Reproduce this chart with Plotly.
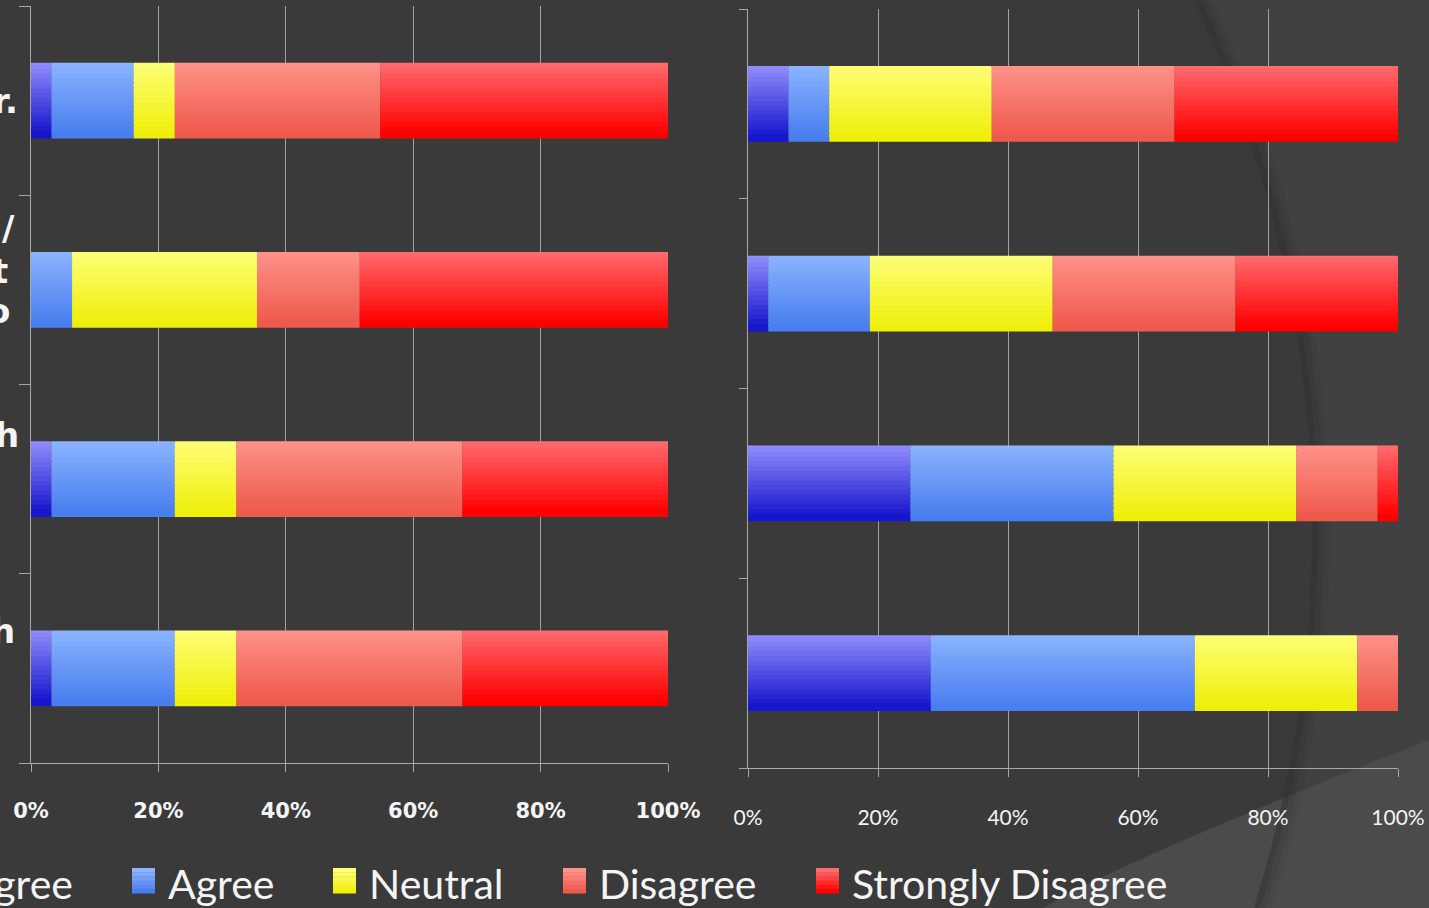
import numpy as np
import plotly.graph_objects as go

# ---------------------------------------------------------------- data
series_names = ["Strongly Agree", "Agree", "Neutral", "Disagree", "Strongly Disagree"]
row_ids = [0, 1, 2, 3]

# left survey (percent of respondents per statement)
left_strongly_agree = [3.23, 0.00, 3.23, 3.23]
left_agree = [12.90, 6.45, 19.35, 19.35]
left_neutral = [6.45, 29.03, 9.68, 9.68]
left_disagree = [32.26, 16.13, 35.48, 35.48]
left_strongly_disagree = [45.16, 48.39, 32.26, 32.26]

# right survey (percent of respondents per statement)
right_strongly_agree = [6.25, 3.125, 25.0, 28.125]
right_agree = [6.25, 15.625, 31.25, 40.625]
right_neutral = [25.0, 28.125, 28.125, 25.0]
right_disagree = [28.125, 28.125, 12.5, 6.25]
right_strongly_disagree = [34.375, 25.0, 3.125, 0.0]

tick_values = [0, 20, 40, 60, 80, 100]
tick_labels = ["0%", "20%", "40%", "60%", "80%", "100%"]

# trailing pieces of the statement labels at the left edge
label_tails = ["r.", "/", "t", "o", "h", "h"]

# ---------------------------------------------------------------- styling
W, H = 1429, 908
BG = "#3a3a3a"
GRID = "#a2a2a2"
AXIS = "#a8a8a8"
BAR_W = 0.4
STRIPS = 16

# vertical gradient of each series: (top colour, bottom colour)
GRADIENTS = {
    "Strongly Agree": ((0x92, 0x8e, 0xfc), (0x16, 0x16, 0xcc)),
    "Agree": ((0x8c, 0xb4, 0xff), (0x48, 0x7e, 0xee)),
    "Neutral": ((0xfe, 0xfe, 0x78), (0xef, 0xef, 0x0c)),
    "Disagree": ((0xff, 0x92, 0x8a), (0xee, 0x5a, 0x4c)),
    "Strongly Disagree": ((0xff, 0x6c, 0x70), (0xff, 0x00, 0x00)),
}


def mix(c1, c2, t):
    return "#%02x%02x%02x" % tuple(int(round(a + (b - a) * t)) for a, b in zip(c1, c2))


def px(x):
    return x / W


def py(y):
    return 1 - y / H


fig = go.Figure()


def add_stacked(series_values, xa, ya):
    base = np.zeros(len(row_ids))
    step = BAR_W / STRIPS
    for name, vals in zip(series_names, series_values):
        vals = np.asarray(vals, dtype=float)
        top, bot = GRADIENTS[name]
        for k in range(STRIPS):
            t = k / (STRIPS - 1)
            # each strip reaches up over the previous one so no seams show
            ext = 0.6 * step if k > 0 else 0.0
            fig.add_trace(go.Bar(
                orientation="h", y=row_ids, x=vals, base=base.copy(),
                width=step + ext, offset=-BAR_W / 2 + k * step - ext,
                marker=dict(color=mix(top, bot, t), line=dict(width=0)),
                xaxis=xa, yaxis=ya, name=name, showlegend=False,
                hoverinfo="skip",
            ))
        base = base + vals


add_stacked([left_strongly_agree, left_agree, left_neutral,
             left_disagree, left_strongly_disagree], "x", "y")
add_stacked([right_strongly_agree, right_agree, right_neutral,
             right_disagree, right_strongly_disagree], "x2", "y2")

xaxis_common = dict(
    range=[0, 100], tickvals=tick_values, ticktext=tick_labels,
    showgrid=True, gridcolor=GRID, gridwidth=1, zeroline=False,
    showline=True, linecolor=AXIS, linewidth=1,
    ticks="outside", ticklen=8, tickcolor=AXIS, tickwidth=1,
    fixedrange=True,
)
yaxis_common = dict(
    range=[3.5, -0.5], tickvals=[-0.5, 0.5, 1.5, 2.5, 3.5],
    showticklabels=False, showgrid=False, zeroline=False,
    showline=True, linecolor=AXIS, linewidth=1,
    ticks="outside", tickcolor=AXIS, tickwidth=1, fixedrange=True,
)

fig.update_layout(
    width=W, height=H, autosize=False,
    margin=dict(l=0, r=0, t=0, b=0, autoexpand=False),
    paper_bgcolor=BG, plot_bgcolor="rgba(0,0,0,0)",
    barmode="overlay", showlegend=False,
    xaxis=dict(**xaxis_common, domain=[px(31), px(668)], anchor="y",
               tickfont=dict(family="DejaVu Sans", size=21, color="#f4f4f4", weight="bold"),
               ticklabelstandoff=21),
    yaxis=dict(**yaxis_common, domain=[py(763), py(6)], anchor="x", ticklen=11),
    xaxis2=dict(**xaxis_common, domain=[px(748), px(1398)], anchor="y2",
                tickfont=dict(family="Lato", size=21, color="#f4f4f4"),
                ticklabelstandoff=23),
    yaxis2=dict(**yaxis_common, domain=[py(768), py(9)], anchor="x2", ticklen=8),
)

# ---------------------------------------------------------------- backdrop
shapes = []
cx, cy, R = 58.0, 530.0, 1254.0
ys = np.linspace(0, H, 60)
arc_x = cx + np.sqrt(R ** 2 - (ys - cy) ** 2)


def path_from(points, close=False):
    d = "M " + " L ".join(f"{px(x):.5f},{py(y):.5f}" for x, y in points)
    return d + (" Z" if close else "")


arc_pts = list(zip(arc_x, ys))
shapes.append(dict(type="path", xref="paper", yref="paper", layer="below",
                   path=path_from(arc_pts + [(W, H), (W, 0)], close=True),
                   fillcolor="#414141", line=dict(width=0)))

tri_pts = [(1043 + (W - 1043) * s, H - (H - 740) * (s ** 0.9)) for s in np.linspace(0, 1, 20)]
shapes.append(dict(type="path", xref="paper", yref="paper", layer="below",
                   path=path_from(tri_pts + [(W, H)], close=True),
                   fillcolor="#4b4b4b", line=dict(width=0)))

for off, wid, alpha in [(3, 6, 0.18), (9, 6, 0.10), (15, 6, 0.04)]:
    shapes.append(dict(type="path", xref="paper", yref="paper", layer="below",
                       path=path_from([(x + off, y) for x, y in arc_pts]),
                       line=dict(color=f"rgba(0,0,0,{alpha})", width=wid)))

# legend swatches
legend_items = [("Agree", 132), ("Neutral", 333), ("Disagree", 563), ("Strongly Disagree", 816)]
annotations = []
for name, sx in legend_items:
    top, bot = GRADIENTS[name]
    n = 6
    for k in range(n):
        y0 = 868 + 25 * k / n
        y1 = 868 + 25 * (k + 1) / n
        shapes.append(dict(type="rect", xref="paper", yref="paper", layer="above",
                           x0=px(sx), x1=px(sx + 23), y0=py(y1 + 0.5), y1=py(y0),
                           fillcolor=mix(top, bot, k / (n - 1)), line=dict(width=0)))
    annotations.append(dict(text=name, xref="paper", yref="paper", x=px(sx + 34), y=py(883),
                            xanchor="left", yanchor="middle", showarrow=False,
                            font=dict(family="Lato", size=41, color="#f4f4f4")))
annotations.append(dict(text="Strongly Agree", xref="paper", yref="paper", x=px(75), y=py(883),
                        xanchor="right", yanchor="middle", showarrow=False,
                        font=dict(family="Lato", size=41, color="#f4f4f4")))

# statement label endings at the left edge
tail_pos = [(20, 101), (17, 228), (10, 271), (12, 311), (21, 435), (17, 631)]
for txt, (tx, ty) in zip(label_tails, tail_pos):
    annotations.append(dict(text=txt, xref="paper", yref="paper", x=px(tx), y=py(ty),
                            xanchor="right", yanchor="middle", showarrow=False,
                            font=dict(family="DejaVu Sans", size=34, color="#f4f4f4",
                                      weight="bold")))

fig.update_layout(shapes=shapes, annotations=annotations)
fig.write_html("out.html")
